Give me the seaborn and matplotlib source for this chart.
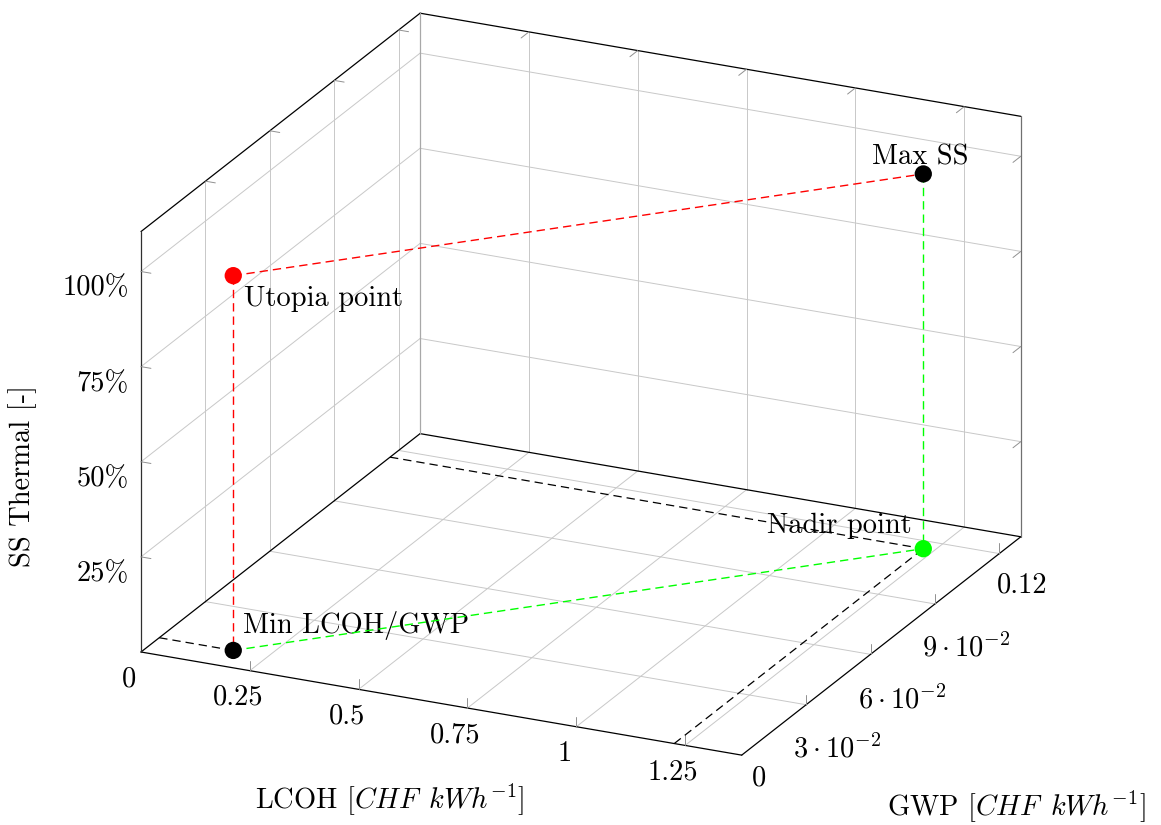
import numpy as np
import pandas as pd
import matplotlib
matplotlib.use("Agg")
import matplotlib.pyplot as plt
import seaborn as sns
from matplotlib.transforms import offset_copy
from mpl_toolkits.mplot3d import proj3d

# Extreme points of the Pareto front
point_names = ["Min LCOH/GWP", "Utopia point", "Max SS", "Nadir point"]
lcoh = [0.17, 0.17, 1.225, 1.225]         # CHF/kWh
gwp = [0.0085, 0.0085, 0.116, 0.116]      # CHF/kWh
ss_thermal = [0.0, 0.985, 0.985, 0.0]     # self-sufficiency fraction
point_colors = ["black", "red", "black", "#00ff00"]

# Dashed links between points (index pairs) and their colours
link_pairs = [(1, 2), (1, 0), (0, 3), (2, 3)]
link_colors = ["red", "red", "#00ff00", "#00ff00"]

# Axis ticks and labels
lcoh_ticks = [0, 0.25, 0.5, 0.75, 1.0, 1.25]
lcoh_ticklabels = ["0", "0.25", "0.5", "0.75", "1", "1.25"]
gwp_ticks = [0, 0.03, 0.06, 0.09, 0.12]
gwp_ticklabels = ["0", r"$3\cdot10^{-2}$", r"$6\cdot10^{-2}$", r"$9\cdot10^{-2}$", "0.12"]
ss_ticks = [0.25, 0.5, 0.75, 1.0]
ss_ticklabels = ["25%", "50%", "75%", "100%"]

lcoh_lim = (0.0, 1.38)
gwp_lim = (0.0, 0.13)
ss_lim = (0.0, 1.105)

df = pd.DataFrame({"name": point_names, "lcoh": lcoh, "gwp": gwp,
                   "ss": ss_thermal, "color": point_colors})

sns.set_theme(style="white")
plt.rcParams["font.family"] = ["cmr10", "DejaVu Serif"]
plt.rcParams["mathtext.fontset"] = "cm"
plt.rcParams["axes.unicode_minus"] = False
plt.rcParams["axes.formatter.use_mathtext"] = True
plt.rcParams["lines.scale_dashes"] = False
plt.rcParams["text.color"] = "black"

FS = 20.5
W_PX, H_PX = 1161, 825
fig = plt.figure(figsize=(W_PX / 100, H_PX / 100), dpi=100)
fig.patch.set_facecolor("white")
ax = fig.add_subplot(projection="3d", proj_type="ortho", computed_zorder=False)
ax.view_init(elev=21.5, azim=-64.9)
ax.set_box_aspect((1.468, 1.456, 1.0))
ax.set_xlim(*lcoh_lim)
ax.set_ylim(*gwp_lim)
ax.set_zlim(*ss_lim)
ax.set_xticks([])
ax.set_yticks([])
ax.set_zticks([])
ax.set_axis_off()

x0, x1 = lcoh_lim
y0, y1 = gwp_lim
z0, z1 = ss_lim

# Grid on the floor, the back wall and the left wall
grid_kw = dict(color="#c8c8c8", lw=0.7, zorder=1)
for t in lcoh_ticks[1:]:
    ax.plot([t, t], [y0, y1], [z0, z0], **grid_kw)
    ax.plot([t, t], [y1, y1], [z0, z1], **grid_kw)
for t in gwp_ticks[1:]:
    ax.plot([x0, x1], [t, t], [z0, z0], **grid_kw)
    ax.plot([x0, x0], [t, t], [z0, z1], **grid_kw)
for t in ss_ticks:
    ax.plot([x0, x1], [y1, y1], [t, t], **grid_kw)
    ax.plot([x0, x0], [y0, y1], [t, t], **grid_kw)

# Box outline
A, B, C, D = (x0, y0, z0), (x1, y0, z0), (x1, y1, z0), (x0, y1, z0)
At, Ct, Dt = (x0, y0, z1), (x1, y1, z1), (x0, y1, z1)
edges = [(A, B, "black"), (B, C, "black"), (C, D, "black"), (D, A, "black"),
         (At, Dt, "black"), (Dt, Ct, "black"), (A, At, "#303030"),
         (C, Ct, "#707070"), (D, Dt, "#a8a8a8")]
for p, q, col in edges:
    ax.plot([p[0], q[0]], [p[1], q[1]], [p[2], q[2]], color=col, lw=0.9, zorder=2)

# Tick marks
tick_kw = dict(color="#909090", lw=0.7, zorder=2)
tx, ty, tz = 0.0165 * (x1 - x0), 0.028 * (y1 - y0), 0.024 * (z1 - z0)
for t in lcoh_ticks[1:]:
    ax.plot([t, t], [y0, y0], [z0, z0 + tz], **tick_kw)
    ax.plot([t, t], [y1, y1 - ty], [z1, z1], **tick_kw)
for t in gwp_ticks[1:]:
    ax.plot([x1, x1], [t, t], [z0, z0 + tz], **tick_kw)
    ax.plot([x0, x0 + tx], [t, t], [z1, z1], **tick_kw)
for t in ss_ticks:
    ax.plot([x0, x0 + tx], [y0, y0], [t, t], **tick_kw)
    ax.plot([x1, x1], [y1, y1 - ty], [t, t], **tick_kw)

dash = (0, (6.0, 3.6))

# Dashed links between the extreme points
for (i, j), col in zip(link_pairs, link_colors):
    ax.plot([df.lcoh[i], df.lcoh[j]], [df.gwp[i], df.gwp[j]], [df.ss[i], df.ss[j]],
            color=col, lw=1.0, ls=dash, zorder=4)

# Floor projections of the two bottom points onto the walls
for i in (0, 3):
    ax.plot([x0, df.lcoh[i]], [df.gwp[i], df.gwp[i]], [z0, z0],
            color="black", lw=0.9, ls=dash, zorder=4)
ax.plot([df.lcoh[3], df.lcoh[3]], [y0, df.gwp[3]], [z0, z0],
        color="black", lw=0.9, ls=dash, zorder=4)

ax.scatter(df.lcoh, df.gwp, df.ss, c=df.color, s=155, depthshade=False,
           edgecolors="none", zorder=6)


def label3d(x, y, z, s, dx, dy, **kw):
    """Text anchored at a 3D data point, shifted by (dx, dy) pixels."""
    xs, ys, _ = proj3d.proj_transform(x, y, z, ax.get_proj())
    tr = offset_copy(ax.transData, fig=fig, x=dx, y=dy, units="dots")
    return ax.text2D(float(xs), float(ys), s, transform=tr, fontsize=FS,
                     va="baseline", color="black", zorder=3, **kw)


# Point annotations
annot = {"Min LCOH/GWP": (10, 17, "left"), "Utopia point": (11, -30, "left"),
         "Max SS": (-3, 9, "center"), "Nadir point": (-12, 16, "right")}
for _, r in df.iterrows():
    dx, dy, ha = annot[r["name"]]
    label3d(r.lcoh, r.gwp, r.ss, r["name"], dx, dy, ha=ha)

# Tick labels
for t, lab in zip(lcoh_ticks, lcoh_ticklabels):
    label3d(t, y0, z0, lab, -12, -34, ha="center")
gwp_offsets = [(10, -30), (-13, -53), (-13, -54), (-13, -53), (-2, -39)]
for t, lab, (dx, dy) in zip(gwp_ticks, gwp_ticklabels, gwp_offsets):
    label3d(x1, t, z0, lab, dx, dy, ha="left")
for t, lab in zip(ss_ticks, ss_ticklabels):
    label3d(x0, y0, t, lab, -12, -24, ha="right")

# Axis titles
fig.text(390 / W_PX, 1 - 800 / H_PX, r"LCOH [$CHF\ \,kWh^{-1}$]", fontsize=FS,
         ha="center", va="center", color="black")
fig.text(1016 / W_PX, 1 - 807 / H_PX, r"GWP [$CHF\ \,kWh^{-1}$]", fontsize=FS,
         ha="center", va="center", color="black")
fig.text(22.5 / W_PX, 1 - 476 / H_PX, "SS Thermal [-]", fontsize=FS,
         ha="center", va="center", rotation=90, color="black")


# Place the axes so the box spans the intended region of the canvas
def to_px(x, y, z):
    xs, ys, _ = proj3d.proj_transform(x, y, z, ax.get_proj())
    return np.asarray(ax.transData.transform((float(xs), float(ys))))


anchor_lo = np.array([141.0, H_PX - 652.0])
anchor_hi = np.array([1020.0, H_PX - 115.0])
for _ in range(3):
    fig.canvas.draw()
    pa = to_px(x0, y0, z0)
    pc = to_px(x1, y1, z1)
    s = np.linalg.norm(anchor_hi - anchor_lo) / np.linalg.norm(pc - pa)
    pos = ax.get_position()
    org = np.array([pos.x0 * W_PX, pos.y0 * H_PX])
    rel = (pa - org) * s
    new_org = anchor_lo - rel
    ax.set_position([new_org[0] / W_PX, new_org[1] / H_PX, pos.width * s, pos.height * s])

fig.savefig("out.png", dpi=100, facecolor="white")
